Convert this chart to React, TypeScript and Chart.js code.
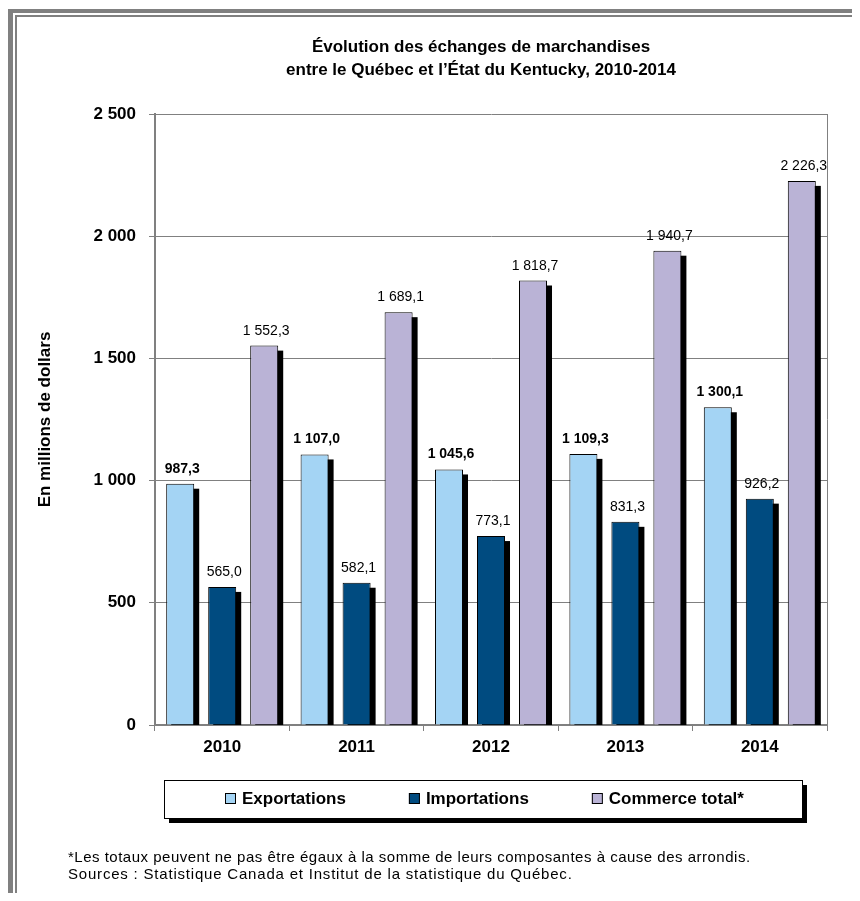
import { useEffect, useRef } from "react";
import { Chart, registerables } from "chart.js";

Chart.register(...registerables);

const categories = ["2010", "2011", "2012", "2013", "2014"];
const exportations = [987.3, 1107.0, 1045.6, 1109.3, 1300.1];
const importations = [565.0, 582.1, 773.1, 831.3, 926.2];
const commerceTotal = [1552.3, 1689.1, 1818.7, 1940.7, 2226.3];
const seriesLabels = ["Exportations", "Importations", "Commerce total*"];
const seriesColors = ["#A4D4F4", "#004B80", "#BAB3D6"];
const yTickValues = [0, 500, 1000, 1500, 2000, 2500];
const titleLines = [
  "Évolution des échanges de marchandises",
  "entre le Québec et l\u2019État du Kentucky, 2010-2014",
];
const yAxisTitle = "En millions de dollars";
const footnotes = [
  "*Les totaux peuvent ne pas être égaux à la somme de leurs composantes à cause des arrondis.",
  "Sources : Statistique Canada et Institut de la statistique du Québec.",
];

const NARROW = '"Liberation Sans Narrow", "Arial Narrow", "Liberation Sans", Arial, sans-serif';
const REGULAR = '"Liberation Sans", Arial, sans-serif';
const GRAY = "#808080";

function frNumber(v: number, decimals: number): string {
  const s = v.toFixed(decimals);
  const [intPart, decPart] = s.split(".");
  const grouped = intPart.replace(/\B(?=(\d{3})+(?!\d))/g, " ");
  return decPart !== undefined ? grouped + "," + decPart : grouped;
}

const shadowPlugin = {
  id: "barShadows",
  beforeDatasetsDraw(chart: any) {
    const { ctx, chartArea } = chart;
    ctx.save();
    ctx.strokeStyle = GRAY;
    ctx.lineWidth = 1;
    ctx.beginPath();
    ctx.moveTo(chartArea.right + 0.5, chartArea.top);
    ctx.lineTo(chartArea.right + 0.5, chartArea.bottom);
    ctx.stroke();
    ctx.beginPath();
    ctx.rect(chartArea.left, chartArea.top, chartArea.right - chartArea.left, chartArea.bottom - chartArea.top);
    ctx.clip();
    ctx.fillStyle = "#000";
    chart.data.datasets.forEach((_ds: any, i: number) => {
      const meta = chart.getDatasetMeta(i);
      meta.data.forEach((bar: any) => {
        const p = bar.getProps(["x", "y", "base", "width"], true);
        ctx.fillRect(p.x - p.width / 2 + 5, p.y + 5, p.width, p.base - p.y);
      });
    });
    ctx.restore();
  },
};

const valueLabelPlugin = {
  id: "valueLabels",
  afterDatasetsDraw(chart: any) {
    const { ctx } = chart;
    ctx.save();
    ctx.fillStyle = "#000";
    ctx.textAlign = "center";
    ctx.textBaseline = "alphabetic";
    chart.data.datasets.forEach((ds: any, i: number) => {
      const meta = chart.getDatasetMeta(i);
      ctx.font = (i === 0 ? "bold " : "") + "14px " + NARROW;
      meta.data.forEach((bar: any, j: number) => {
        const p = bar.getProps(["x", "y"], true);
        ctx.fillText(frNumber(ds.data[j], 1), p.x + 2, p.y - 11);
      });
    });
    ctx.restore();
  },
};

const decorPlugin = {
  id: "decor",
  afterDraw(chart: any) {
    const { ctx } = chart;
    ctx.save();
    // Title
    ctx.fillStyle = "#000";
    ctx.textAlign = "center";
    ctx.textBaseline = "middle";
    ctx.font = "bold 17px " + NARROW;
    ctx.fillText(titleLines[0], 473, 39);
    ctx.fillText(titleLines[1], 473, 62);

    // Legend box
    const bx = 156, by = 772, bw = 638, bh = 38;
    ctx.fillStyle = "#000";
    ctx.fillRect(bx + 5, by + 5, bw, bh);
    ctx.fillStyle = "#fff";
    ctx.fillRect(bx, by, bw, bh);
    ctx.strokeStyle = "#000";
    ctx.lineWidth = 1;
    ctx.strokeRect(bx + 0.5, by + 0.5, bw, bh);

    ctx.font = "bold 17px " + NARROW;
    ctx.textAlign = "left";
    ctx.textBaseline = "middle";
    let x = 217;
    const cy = 791;
    chart.data.datasets.forEach((ds: any) => {
      ctx.fillStyle = ds.backgroundColor;
      ctx.fillRect(x, cy - 6, 11, 11);
      ctx.strokeStyle = "#000";
      ctx.lineWidth = 1;
      ctx.strokeRect(x + 0.5, cy - 5.5, 10, 10);
      ctx.fillStyle = "#000";
      ctx.fillText(ds.label, x + 17, cy);
      x += 17 + ctx.measureText(ds.label).width + 63;
    });

    // Footnotes
    ctx.font = "15px " + REGULAR;
    (ctx as any).letterSpacing = "0.5px";
    ctx.fillStyle = "#000";
    ctx.textBaseline = "middle";
    ctx.fillText(footnotes[0], 60, 850);
    (ctx as any).letterSpacing = "0.8px";
    ctx.fillText(footnotes[1], 60, 867);
    (ctx as any).letterSpacing = "0px";
    ctx.restore();
  },
};

export default function App() {
  const canvasRef = useRef<HTMLCanvasElement | null>(null);

  useEffect(() => {
    if (!canvasRef.current) return;
    const chart = new Chart(canvasRef.current, {
      type: "bar",
      data: {
        labels: categories,
        datasets: [
          { label: seriesLabels[0], data: exportations, backgroundColor: seriesColors[0] },
          { label: seriesLabels[1], data: importations, backgroundColor: seriesColors[1] },
          { label: seriesLabels[2], data: commerceTotal, backgroundColor: seriesColors[2] },
        ].map((d) => ({
          ...d,
          borderColor: "#000",
          borderWidth: 1,
          categoryPercentage: 0.9375,
          barPercentage: 0.667,
        })),
      },
      options: {
        responsive: false,
        animation: false,
        devicePixelRatio: 1,
        layout: { padding: { left: 20, right: 33, top: 106, bottom: 128 } },
        plugins: {
          legend: { display: false },
          title: { display: false },
          tooltip: { enabled: false },
        },
        scales: {
          x: {
            grid: { display: true, drawOnChartArea: false, tickLength: 6, color: GRAY, offset: true },
            border: { color: GRAY, width: 2 },
            ticks: { color: "#000", font: { family: NARROW, size: 17, weight: "bold" }, padding: 6 },
            afterFit(scale: any) {
              scale.height = 40;
            },
          },
          y: {
            min: 0,
            max: 2500,
            afterBuildTicks(scale: any) {
              scale.ticks = yTickValues.map((v) => ({ value: v }));
            },
            grid: { color: GRAY, tickLength: 6, lineWidth: 1 },
            border: { color: GRAY, width: 2 },
            ticks: {
              color: "#000",
              font: { family: NARROW, size: 17, weight: "bold" },
              padding: 13,
              callback: (v: any) => frNumber(Number(v), 0),
            },
            title: {
              display: true,
              text: yAxisTitle,
              color: "#000",
              font: { family: NARROW, size: 17, weight: "bold" },
              padding: { top: 7, bottom: 0 },
            },
            afterFit(scale: any) {
              scale.width = 127;
            },
          },
        },
      },
      plugins: [shadowPlugin, valueLabelPlugin, decorPlugin],
    });
    return () => chart.destroy();
  }, []);

  const line = (style: any) => <div style={{ position: "absolute", background: GRAY, ...style }} />;

  return (
    <div style={{ position: "relative", width: 852, height: 885, overflow: "hidden" }}>
      {line({ left: 0, top: 1, width: 852, height: 4 })}
      {line({ left: 7, top: 7, width: 845, height: 2 })}
      {line({ left: 0, top: 1, width: 5, height: 884 })}
      {line({ left: 7, top: 7, width: 2, height: 878 })}
      <canvas
        ref={canvasRef}
        width={852}
        height={885}
        style={{ position: "absolute", left: 0, top: 0, width: 852, height: 885 }}
      />
    </div>
  );
}
